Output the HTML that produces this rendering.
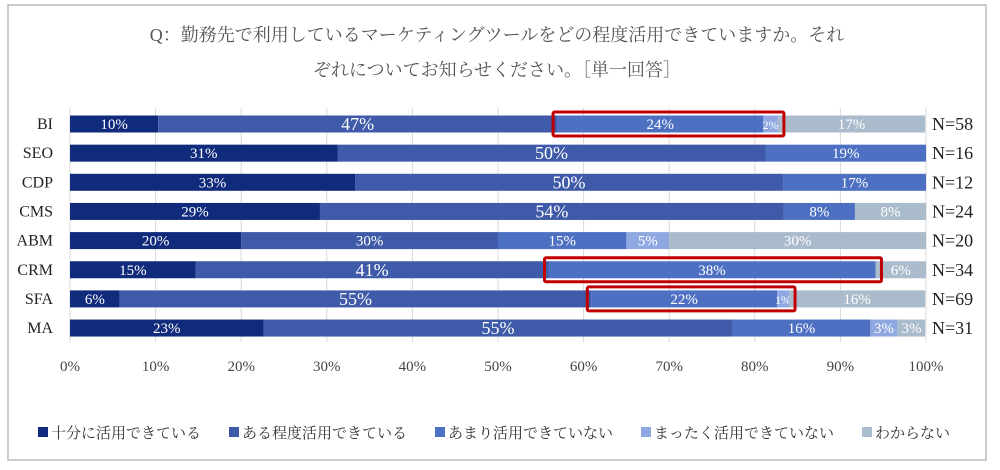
<!DOCTYPE html>
<html><head><meta charset="utf-8"><style>
body{margin:0;background:#fff;width:1000px;height:465px;overflow:hidden}
svg text{font-family:"Liberation Serif","Noto Serif CJK SC",serif}
</style></head><body>
<svg width="1000" height="465">
<rect x="8" y="5" width="978" height="455" fill="#fff" stroke="#bbb" stroke-width="1.5"/>
<text x="497" y="41" text-anchor="middle" font-size="18" fill="#555">Q：勤務先で利用しているマーケティングツールをどの程度活用できていますか。それ</text>
<text x="497" y="76" text-anchor="middle" font-size="18" fill="#555">ぞれについてお知らせください。［単一回答］</text>
<g id="grid"></g><g id="bars"></g><g id="ticks"></g><g id="legend"></g>
</svg>
<script>
const categories=["BI","SEO","CDP","CMS","ABM","CRM","SFA","MA"];
const nLabels=["N=58","N=16","N=12","N=24","N=20","N=34","N=69","N=31"];
const s1=[10.3,31.25,33.3,29.2,20,14.7,5.8,22.6];
const s2=[46.6,50,50,54.2,30,41.2,55.1,54.8];
const s3=[24.1,18.75,16.7,8.3,15,38.2,21.7,16.1];
const s4=[1.7,0,0,0,5,0,1.4,3.2];
const s5=[17.2,0,0,8.3,30,5.9,15.9,3.2];
const seriesNames=["十分に活用できている","ある程度活用できている","あまり活用できていない","まったく活用できていない","わからない"];
const tickLabels=["0%","10%","20%","30%","40%","50%","60%","70%","80%","90%","100%"];
const highlights=[[0,2,3],[5,2,2],[6,2,3]];
const colors=["#102a7c","#3f5aa8","#4e70c2","#90a8e2","#aabbcc"];
const NS="http://www.w3.org/2000/svg";
const x0=70,pw=856,y0=124,step=29.15,bh=17;
const X=v=>x0+v/100*pw, Y=i=>y0+i*step;
function mk(p,tag,a,txt){const e=document.createElementNS(NS,tag);for(const k in a)e.setAttribute(k,a[k]);if(txt!=null)e.textContent=txt;document.getElementById(p).appendChild(e);return e;}
tickLabels.forEach((t,i)=>{const v=i*10;
 const l=mk("grid","line",{x1:X(v),x2:X(v),y1:108,y2:342,stroke:"#d9d9d9","stroke-width":1});
 
 
 const tx=mk("ticks","text",{x:X(v),y:371,"text-anchor":"middle","font-size":15,fill:"#444"},t);
 
 
});
const series=[s1,s2,s3,s4,s5];
categories.forEach((c,i)=>{
 const yl=mk("bars","text",{x:53,y:Y(i)+5,"text-anchor":"end","font-size":16,fill:"#222"},c);
 
 
 let acc=0;const starts=[];
 series.forEach((s,k)=>{const v=s[i];starts.push(acc);
  if(v>0){const r=mk("bars","rect",{x:X(acc),y:Y(i)-bh/2,width:X(acc+v)-X(acc),height:bh,fill:colors[k]});
   
   
   const big=(k==1&&v>=40);const fs=v<3?12:(big?18:15);
   const t=mk("bars","text",{x:X(acc+v/2),y:Y(i)+(big?6:5),"text-anchor":"middle","font-size":fs,fill:"#fff"},Math.round(v)+"%");
   
   }
  acc+=v;});
 starts.push(acc);
 const n=mk("bars","text",{x:932,y:Y(i)+6,"font-size":18,fill:"#222"},nLabels[i]);
 
 
 highlights.forEach(h=>{if(h[0]===i){const a=X(starts[h[1]]),b=X(starts[h[2]+1]);
  const r=mk("bars","rect",{x:a-4,y:Y(i)-bh/2-3.5,width:b-a+10,height:bh+7,fill:"none",stroke:"#c00000","stroke-width":3,rx:1.5});
  
  }});
});
let lx=38;
seriesNames.forEach((n,k)=>{
 const r=mk("legend","rect",{x:lx,y:427,width:10,height:10,fill:colors[k]});
 
 
 const t=mk("legend","text",{x:lx+13,y:438,"font-size":15,fill:"#333"},n);
 
 
 lx+=13+n.length*15+28;
});
</script>
</body></html>
